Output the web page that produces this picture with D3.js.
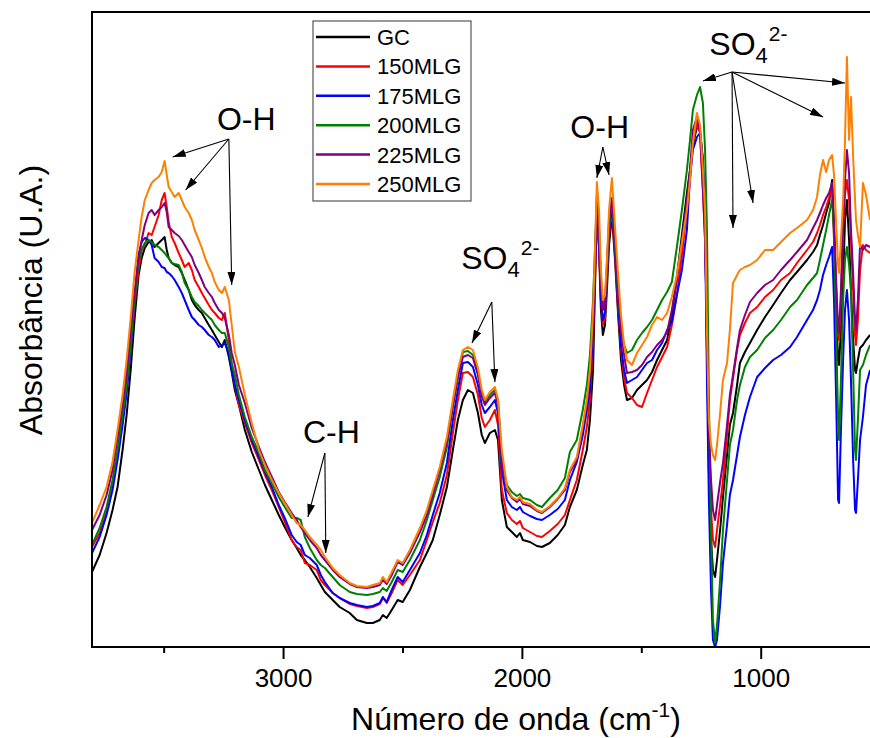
<!DOCTYPE html>
<html><head><meta charset="utf-8">
<script src="https://cdn.jsdelivr.net/npm/d3@7"></script>
<style>body{margin:0;background:#fff} svg{display:block} text{font-family:"Liberation Sans",Arial,Helvetica,sans-serif}</style>
</head><body><svg id="c" width="870" height="738"></svg>
<script>
const wavenumber = [3800,3768,3739,3714,3693,3672,3655,3638,3622,3605,
3592,3579,3563,3550,3538,3521,3508,3496,3487,3479,
3466,3454,3437,3424,3412,3395,3382,3370,3353,3340,
3328,3311,3298,3286,3269,3256,3244,3227,3215,3202,
3185,3160,3131,3101,3076,3047,3018,2993,2964,2943,
2926,2909,2888,2859,2842,2825,2792,2763,2721,2691,
2649,2624,2595,2582,2566,2545,2520,2499,2469,2427,
2398,2373,2344,2314,2289,2268,2247,2226,2205,2184,
2168,2155,2134,2113,2100,2084,2063,2042,2021,2008,
1996,1966,1937,1916,1883,1850,1820,1799,1770,1745,
1728,1715,1702,1694,1686,1677,1669,1661,1652,1644,
1635,1623,1610,1597,1585,1572,1560,1539,1518,1497,
1476,1455,1434,1413,1392,1372,1351,1330,1309,1296,
1284,1267,1254,1242,1233,1225,1217,1208,1200,1191,
1183,1170,1158,1141,1129,1116,1099,1087,1066,1045,
1015,982,948,915,877,848,806,781,764,752,
739,726,714,701,693,684,676,672,664,655,
647,639,630,622,613,605,601,593,584,572,
559,542];

const gc = [75,92,114,137,160,197,232,277,327,372,
389,399,405,407,400,404,407,410,397,389,
384,382,380,374,367,357,347,342,337,334,
329,322,317,312,305,300,307,290,275,257,
242,217,195,177,162,147,132,120,107,99,
92,87,80,69,62,55,47,40,34,27,
24,24,27,32,29,37,47,45,57,80,
94,107,132,160,197,227,247,257,254,234,
212,204,214,217,207,147,120,115,110,114,
107,105,101,100,104,112,122,140,157,182,
197,227,277,357,437,397,337,312,322,357,
402,432,387,332,287,262,247,249,257,262,
267,275,287,297,307,332,370,412,454,477,
502,520,517,487,427,297,177,107,77,70,
87,117,150,192,222,234,262,284,295,304,
317,330,342,354,367,375,387,395,402,412,
422,434,444,467,407,337,287,282,317,367,
427,447,407,357,307,277,274,287,299,302,
307,312];

const mlg150 = [100,114,135,162,192,227,257,297,342,377,
397,402,414,412,420,432,447,454,440,425,
410,404,394,387,380,384,377,367,360,354,
349,342,337,334,329,327,334,307,282,262,
242,224,204,187,172,157,140,125,107,100,
97,84,82,77,67,62,54,49,43,41,
39,40,43,49,44,54,67,62,72,87,
107,125,144,172,214,247,274,275,270,252,
229,220,227,237,222,157,134,127,123,126,
119,115,111,110,116,123,132,147,167,197,
220,247,307,367,432,402,347,322,329,367,
412,437,392,337,297,269,254,249,242,240,
254,267,280,290,300,322,352,392,437,467,
504,524,514,457,407,327,207,137,107,100,
117,142,167,212,247,269,297,312,324,334,
340,350,357,367,374,384,397,405,414,422,
432,440,449,460,417,357,312,307,347,417,
452,467,447,407,357,312,302,327,377,402,
397,394];

const mlg175 = [94,110,132,157,187,222,254,297,347,392,
405,409,407,402,389,385,380,379,375,374,
371,367,360,354,347,337,330,327,322,320,
317,312,310,307,300,302,304,294,277,262,
247,227,207,190,175,160,142,129,112,105,
102,92,89,82,72,65,54,49,44,42,
40,41,44,50,45,57,70,65,77,94,
112,132,154,184,227,257,284,285,280,262,
242,234,240,247,234,177,147,140,137,140,
135,131,128,127,132,138,147,167,185,212,
237,257,317,377,442,407,347,327,335,372,
417,442,397,342,302,277,264,267,270,277,
284,287,297,304,317,325,352,377,417,470,
497,510,514,487,417,267,147,57,7,0,
7,42,84,122,152,167,192,210,232,250,
270,279,287,292,300,310,327,337,347,357,
372,382,390,400,347,247,147,144,217,287,
337,357,327,267,187,137,134,167,207,230,
262,277];

const mlg200 = [102,119,140,167,197,232,262,302,347,385,
397,404,407,405,402,400,397,394,391,389,
384,383,382,375,364,357,350,345,341,337,
334,330,327,322,317,314,314,300,284,272,
252,230,210,194,177,164,150,140,129,129,
127,110,99,87,82,79,70,62,55,53,
52,53,55,59,56,65,77,75,87,107,
127,147,170,200,240,269,295,296,292,274,
254,244,252,257,247,187,162,155,151,153,
149,147,142,140,149,157,169,195,207,237,
262,292,347,397,452,417,367,342,347,377,
422,447,402,352,317,302,294,297,307,314,
320,327,337,347,355,365,400,437,477,507,
537,552,560,544,497,417,247,117,27,4,
22,67,117,167,202,217,247,262,280,290,
297,309,317,327,340,347,362,369,374,387,
402,417,432,447,417,317,227,207,267,347,
387,400,382,357,277,197,187,227,277,282,
292,302];

const mlg225 = [117,132,152,177,209,242,275,317,355,389,
407,422,434,437,432,437,440,444,435,420,
417,414,411,407,402,395,390,382,374,367,
360,354,350,344,337,334,329,312,294,282,
262,244,219,200,185,170,155,145,134,127,
120,114,107,99,92,87,77,70,63,60,
59,60,62,67,63,72,85,82,94,115,
132,152,177,205,242,270,290,292,289,272,
251,242,249,254,242,187,157,149,145,148,
143,141,136,134,140,148,157,175,187,219,
244,272,327,382,447,417,362,337,342,382,
427,449,407,357,317,292,274,275,277,282,
290,295,302,307,315,337,367,407,447,477,
517,530,514,457,407,317,217,167,137,127,
142,165,184,222,252,272,299,317,332,345,
354,362,367,377,387,395,407,419,427,434,
442,449,454,464,427,367,317,314,357,427,
467,497,474,417,374,327,317,347,402,397,
402,400];

const mlg250 = [124,142,160,185,217,252,287,329,374,407,
430,447,457,464,467,470,475,486,472,460,
455,450,454,447,440,434,427,417,407,399,
390,380,374,365,357,354,360,347,322,295,
280,252,224,197,182,167,154,144,132,124,
122,117,110,102,97,90,79,72,64,61,
60,62,64,70,65,75,87,84,97,119,
137,157,180,210,247,277,297,300,297,279,
257,247,255,260,247,197,160,150,147,150,
145,143,137,135,141,149,159,177,190,222,
247,277,337,397,465,437,377,347,352,387,
437,469,420,372,332,302,287,282,294,302,
310,322,330,327,334,350,372,404,437,467,
504,534,522,477,437,317,227,202,192,187,
202,234,267,284,317,364,372,377,380,382,
387,397,397,405,414,419,427,437,450,472,
487,475,487,492,472,422,382,374,407,447,
507,590,507,550,490,447,427,412,400,464,
452,427];

const seriesNames = ["GC","150MLG","175MLG","200MLG","225MLG","250MLG"];
const seriesValues = [gc, mlg150, mlg175, mlg200, mlg225, mlg250];
const seriesColors = ["#000000","#ff0000","#0000ff","#008000","#800080","#ff8000"];
const xTickValues = [3000, 2000, 1000];
const xMinorTickValues = [3500, 2500, 1500];

// annotation labels (wavenumber, absorbance U.A.)
const labelTexts = ["O-H","C-H","SO","O-H","SO"];
const labelSubs  = ["","","4","","4"];
const labelSups  = ["","","2-","","2-"];
const labelWn    = [3277, 2917, 2254, 1797, 1215];
const labelVal   = [517, 204, 378, 509, 592];
// arrows: from [wn, value] to [wn, value]
const arrowFrom = [[3227,508],[3227,508],[3227,508],[2825,194],[2825,194],[2126,345],[2126,345],[1661,500],[1661,500],[1120,575],[1120,575],[1120,575],[1120,575],[1120,575]];
const arrowTo   = [[3462,490],[3408,457],[3215,362],[2896,130],[2821,94],[2209,304],[2113,265],[1686,469],[1635,472],[1242,566],[1116,419],[1032,444],[739,530],[647,564]];

const svg = d3.select("#c");
const L = 92, R = 904, T = 12, B = 647;
const x = d3.scaleLinear().domain([3800, 400]).range([L, R]);
const y = d3.scaleLinear().domain([0, 635]).range([B, T]);

svg.append("defs").append("clipPath").attr("id","clip")
  .append("rect").attr("x",L).attr("y",T).attr("width",R-L).attr("height",B-T);
const mk = svg.select("defs").append("marker").attr("id","arr")
  .attr("viewBox","0 0 13 8").attr("refX",13).attr("refY",4)
  .attr("markerWidth",13).attr("markerHeight",8)
  .attr("markerUnits","userSpaceOnUse").attr("orient","auto");
mk.append("path").attr("d","M0,0L13,4L0,8Z").attr("fill","#000");

const line = d3.line().x(d => x(d[0])).y(d => y(d[1]));
const gLines = svg.append("g").attr("clip-path","url(#clip)");
seriesValues.forEach((vals, i) => {
  const pts = wavenumber.map((w, j) => [w, vals[j]]);
  gLines.append("path").datum(pts).attr("d", line)
    .attr("fill","none").attr("stroke", seriesColors[i])
    .attr("stroke-width", 2).attr("stroke-linejoin","round");
});

// axes
const gx = svg.append("g").attr("transform",`translate(0,${B})`)
  .call(d3.axisBottom(x).tickValues(xTickValues).tickSize(12).tickPadding(10).tickFormat(d3.format("d")));
gx.select(".domain").remove();
gx.selectAll("line").attr("stroke","#000").attr("stroke-width",2);
gx.selectAll("text").attr("font-size",26).attr("fill","#000")
  .style("font-family",'"Liberation Sans",Arial,sans-serif');
const gxm = svg.append("g").attr("transform",`translate(0,${B})`)
  .call(d3.axisBottom(x).tickValues(xMinorTickValues).tickSize(6).tickFormat(""));
gxm.select(".domain").remove();
gxm.selectAll("line").attr("stroke","#000").attr("stroke-width",2);

// frame
svg.append("rect").attr("x",L).attr("y",T).attr("width",R-L).attr("height",B-T)
  .attr("fill","none").attr("stroke","#000").attr("stroke-width",2);

// axis titles
svg.append("text").attr("transform","translate(42,300) rotate(-90)")
  .attr("text-anchor","middle").attr("font-size",32).attr("fill","#000")
  .text("Absorbância (U.A.)");
const xt = svg.append("text").attr("x",516).attr("y",730).attr("text-anchor","middle")
  .attr("font-size",32).attr("fill","#000");
xt.append("tspan").text("Número de onda (cm");
xt.append("tspan").attr("font-size",21).attr("dy",-13).text("-1");
xt.append("tspan").attr("font-size",32).attr("dy",13).text(")");

// arrows
arrowFrom.forEach((f, i) => {
  const t = arrowTo[i];
  svg.append("line").attr("x1",x(f[0])).attr("y1",y(f[1]))
    .attr("x2",x(t[0])).attr("y2",y(t[1]))
    .attr("stroke","#000").attr("stroke-width",1.1).attr("marker-end","url(#arr)");
});

// annotation labels
labelTexts.forEach((t, i) => {
  const tx = svg.append("text").attr("x",x(labelWn[i])).attr("y",y(labelVal[i]))
    .attr("font-size",32).attr("fill","#000");
  tx.append("tspan").text(t);
  if (labelSubs[i]) {
    const s = tx.append("tspan").attr("font-size",22).attr("dy",8).text(labelSubs[i]);
    tx.append("tspan").attr("font-size",21).attr("dy",-22).attr("dx",1).text(labelSups[i]);
  }
});

// legend
const lg = svg.append("g");
lg.append("rect").attr("x",313).attr("y",21).attr("width",158).attr("height",180)
  .attr("fill","#fff").attr("stroke","#555").attr("stroke-width",1.2);
seriesNames.forEach((n, i) => {
  const yy = 37 + i * 29.4;
  lg.append("line").attr("x1",316).attr("x2",370).attr("y1",yy).attr("y2",yy)
    .attr("stroke",seriesColors[i]).attr("stroke-width",2.5);
  lg.append("text").attr("x",377).attr("y",yy + 8).attr("font-size",22).attr("fill","#000").text(n);
});
</script></body></html>
